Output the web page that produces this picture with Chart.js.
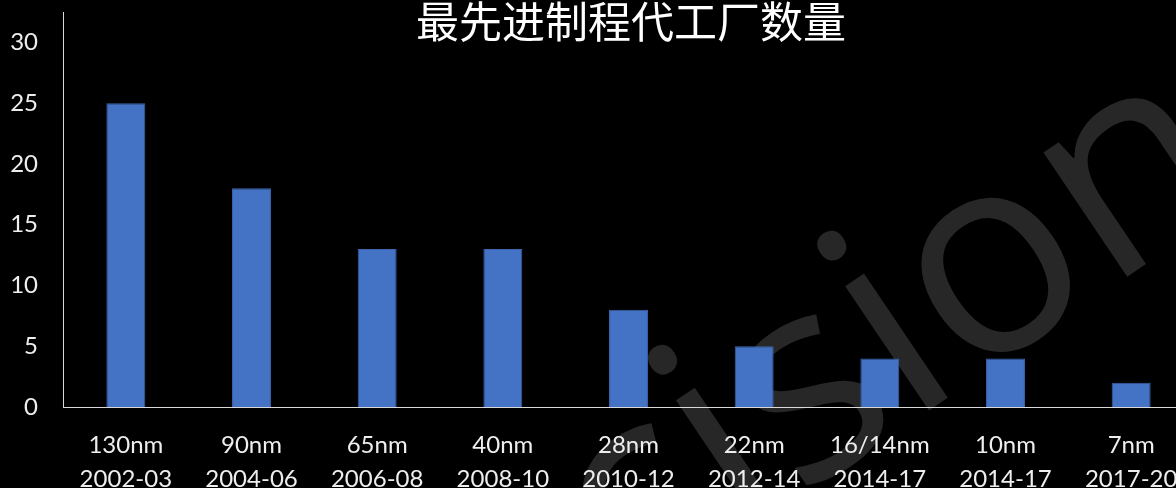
<!DOCTYPE html>
<html>
<head>
<meta charset="utf-8">
<script src="https://cdn.jsdelivr.net/npm/chart.js@4/dist/chart.umd.min.js"></script>
<style>
  html, body { margin: 0; padding: 0; background: #000; overflow: hidden; }
  #wrap { width: 1194px; height: 488px; }
</style>
</head>
<body>
<div id="wrap"><canvas id="chart1" width="1194" height="488"></canvas></div>
<script>
// data
const processNodes = ['130nm', '90nm', '65nm', '40nm', '28nm', '22nm', '16/14nm', '10nm', '7nm'];
const nodeYears = ['2002-03', '2004-06', '2006-08', '2008-10', '2010-12', '2012-14', '2014-17', '2014-17', '2017-20'];
const foundryCounts = [25, 18, 13, 13, 8, 5, 4, 4, 2];
const chartTitle = '最先进制程代工厂数量';
const watermarkText = 'Decision';

const labels = processNodes.map((n, i) => [n, nodeYears[i]]);

// black background + faint watermark, drawn under everything else
const backdrop = {
  id: 'backdrop',
  beforeDraw(chart) {
    const c = chart.ctx;
    c.save();
    c.fillStyle = '#000';
    c.fillRect(0, 0, chart.width, chart.height);
    const fs = 280;
    const ang = -34 * Math.PI / 180;
    c.font = fs + 'px "Open Sans"';
    const w1 = c.measureText('Decis').width + 0.12 * fs;
    const px = 937, py = 405;
    const ox = px - Math.cos(ang) * w1, oy = py - Math.sin(ang) * w1;
    c.translate(ox, oy);
    c.rotate(ang);
    c.fillStyle = '#272727';
    c.textBaseline = 'alphabetic';
    c.fillText(watermarkText, 0, 0);
    c.restore();
  },
  afterDraw(chart) {
    const c = chart.ctx;
    c.save();
    c.fillStyle = '#ffffff';
    c.font = '43px "Noto Sans CJK SC"';
    c.textAlign = 'center';
    c.textBaseline = 'middle';
    c.fillText(chartTitle, 631, 22);
    c.restore();
  }
};

const ctx = document.getElementById('chart1').getContext('2d');
const myChart = new Chart(ctx, {
  type: 'bar',
  data: {
    labels: labels,
    datasets: [{
      label: chartTitle,
      data: foundryCounts,
      backgroundColor: '#4472C4',
      borderColor: '#3b63ab',
      borderWidth: 1,
      barPercentage: 0.31,
      categoryPercentage: 1.0
    }]
  },
  options: {
    responsive: false,
    animation: false,
    layout: { padding: { top: 12, left: 0, right: 0, bottom: 0 } },
    plugins: {
      legend: { display: false },
      title: { display: false },
      tooltip: { enabled: false }
    },
    scales: {
      x: {
        offset: true,
        grid: { display: false },
        border: { display: true, color: '#d9d9d9', width: 1 },
        ticks: {
          color: '#eeeeee',
          font: { family: 'Lato', size: 24, lineHeight: 1.42 },
          maxRotation: 0,
          autoSkip: false,
          padding: 13
        },
        afterFit(scale) {
          scale.height = 81;
          scale.paddingLeft = 0;
          scale.paddingRight = 0;
        }
      },
      y: {
        min: 0,
        max: 32.5,
        grid: { display: false },
        border: { display: true, color: '#d9d9d9', width: 1 },
        ticks: {
          stepSize: 5,
          color: '#eeeeee',
          font: { family: 'Lato', size: 24 },
          padding: 17
        },
        afterBuildTicks(scale) {
          scale.ticks = scale.ticks.filter(t => t.value % 5 === 0);
        },
        afterFit(scale) {
          scale.width = 63;
          scale.paddingTop = 0;
          scale.paddingBottom = 0;
        }
      }
    }
  },
  plugins: [backdrop]
});
</script>
</body>
</html>
